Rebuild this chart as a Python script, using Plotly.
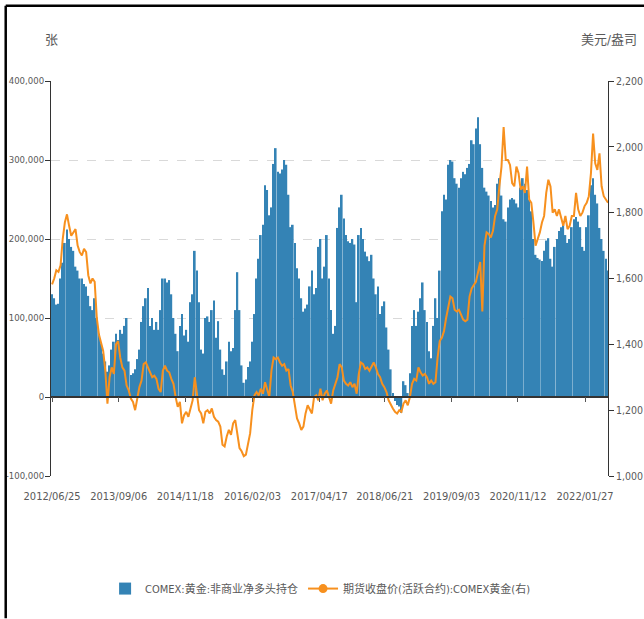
import pandas as pd
import plotly.graph_objects as go

# biweekly observation dates (x categories)
dates = pd.date_range("2012-06-25", periods=262, freq="14D")

# COMEX gold non-commercial net long, thousand contracts
net_long_k = [
    130, 125, 117, 118, 150, 170, 195, 212, 200, 190,
    185, 165, 160, 150, 150, 143, 140, 128, 115, 110,
    125, 100, 80, 68, 55, 45, 32, 40, 60, 70,
    80, 72, 85, 80, 90, 100, 45, 28, 30, 35,
    48, 60, 95, 115, 125, 138, 90, 100, 85, 95,
    85, 110, 150, 150, 145, 148, 130, 100, 80, 58,
    90, 105, 78, 85, 70, 120, 130, 185, 160, 120,
    60, 55, 100, 102, 95, 110, 122, 75, 96, 60,
    35, 28, 45, 70, 58, 62, 110, 158, 110, 40,
    18, 22, 38, 45, 70, 105, 150, 175, 205, 218,
    268, 262, 230, 240, 295, 315, 285, 283, 288, 300,
    294, 256, 215, 218, 195, 163, 150, 125, 108, 112,
    117, 140, 160, 130, 138, 190, 200, 150, 165, 205,
    150, 110, 80, 90, 214, 240, 256, 226, 205, 197,
    195, 200, 193, 120, 205, 214, 200, 184, 178, 172,
    180, 150, 130, 140, 105, 115, 121, 88, 60, 35,
    5, -5, -10, -12, -20, 20, 15, 5, 30, 90,
    110, 90, 108, 125, 145, 110, 95, 58, 49, 90,
    125, 100, 160, 235, 256, 250, 294, 300, 298, 277,
    270, 265, 277, 285, 282, 290, 295, 325, 320, 340,
    354, 320, 290, 265, 260, 255, 248, 240, 243, 270,
    277, 255, 225, 222, 240, 250, 252, 250, 245, 240,
    265, 277, 270, 262, 250, 235, 200, 180, 176, 174,
    172, 185, 198, 201, 175, 165, 190, 200, 210, 215,
    218, 205, 195, 200, 215, 225, 228, 222, 215, 190,
    185, 215, 230, 268, 277, 256, 245, 214, 200, 185,
    175, 160,
]

# COMEX gold futures close (active contract), USD/oz
price = [
    1582, 1600, 1625, 1620, 1640, 1720, 1770, 1795, 1760, 1730,
    1740, 1750, 1700, 1680, 1670, 1690, 1680, 1610, 1585, 1600,
    1590, 1480, 1430, 1400, 1380, 1320, 1220, 1300, 1330, 1310,
    1400, 1410, 1360, 1330, 1320, 1275, 1260, 1235, 1225, 1200,
    1240, 1270, 1290, 1340, 1345, 1330, 1310, 1300, 1305, 1295,
    1265, 1255, 1320, 1335, 1320, 1315, 1295, 1280, 1240, 1210,
    1225, 1160, 1185, 1195, 1180, 1210, 1230, 1300, 1240, 1200,
    1190, 1160, 1195, 1200, 1190, 1205, 1180, 1170, 1165, 1150,
    1095, 1090, 1120, 1140, 1125, 1160, 1170, 1120, 1085, 1075,
    1060, 1065, 1100, 1130, 1200, 1245, 1255, 1245, 1265, 1250,
    1285, 1260, 1240, 1320, 1360, 1355, 1360, 1345, 1335, 1340,
    1320, 1325, 1275, 1255, 1220, 1175, 1160, 1140, 1150, 1190,
    1215, 1200, 1190, 1240, 1245, 1230, 1265, 1230, 1250, 1260,
    1240, 1220, 1260, 1280, 1300, 1340, 1330, 1290, 1280, 1275,
    1285, 1270, 1280, 1250, 1310, 1345, 1340, 1325, 1330, 1320,
    1335, 1345, 1330, 1310, 1300, 1280, 1270, 1255, 1230, 1215,
    1205, 1195, 1190, 1200, 1195, 1220, 1230, 1215, 1240, 1280,
    1295, 1290, 1330, 1315, 1305, 1310, 1300, 1280, 1290, 1280,
    1285, 1360, 1410, 1420, 1440, 1480, 1510, 1545, 1540, 1505,
    1500, 1505, 1490, 1475, 1470, 1475, 1545, 1570, 1580, 1590,
    1620, 1650, 1500, 1700, 1740, 1735, 1725, 1745, 1790, 1810,
    1880, 1940, 2060, 1960, 1960, 1945, 1890, 1880, 1940, 1920,
    1870, 1880, 1860, 1940, 1840, 1830, 1770, 1700, 1720, 1740,
    1770, 1790, 1860, 1900, 1880, 1800, 1810, 1790, 1810, 1780,
    1760, 1790, 1750, 1760, 1790, 1790, 1860, 1810, 1790, 1800,
    1820, 1830, 1850, 1920, 2040, 1950, 1930, 1980, 1880, 1850,
    1840, 1830,
]

tick_dates = ["2012-06-25", "2013-09-06", "2014-11-18", "2016-02-03", "2017-04-17",
              "2018-06-21", "2019-09-03", "2020-11-12", "2022-01-27"]
tick_labels = [d.replace("-", "/") for d in tick_dates]

left_ticks = [-100000, 0, 100000, 200000, 300000, 400000]
left_labels = ["-100,000", "0", "100,000", "200,000", "300,000", "400,000"]
right_ticks = [1000, 1200, 1400, 1600, 1800, 2000, 2200]
right_labels = ["1,000", "1,200", "1,400", "1,600", "1,800", "2,000", "2,200"]

FONT = "DejaVu Sans Condensed, Noto Sans CJK SC, sans-serif"
GREY = "#595959"
BLUE = "#3483b5"
ORANGE = "#f7901e"
xrange = ["2012-06-18", "2022-06-27"]

fig = go.Figure()
fig.add_trace(go.Bar(
    x=dates, y=[v * 1000 for v in net_long_k],
    name="COMEX:黄金:非商业净多头持仓",
    marker=dict(color=BLUE, line=dict(width=0)),
))
fig.add_trace(go.Scatter(
    x=dates, y=price, yaxis="y2", mode="lines", showlegend=False,
    name="期货收盘价(活跃合约):COMEX黄金(右)",
    line=dict(color=ORANGE, width=2),
))
# legend entry for the price line (line with a dot)
fig.add_trace(go.Scatter(
    x=[dates[0]], y=[None], yaxis="y2", mode="lines+markers",
    name="期货收盘价(活跃合约):COMEX黄金(右)",
    line=dict(color=ORANGE, width=2), marker=dict(size=9, color=ORANGE),
))
# dummy axis to draw the category line along zero with its ticks
fig.add_trace(go.Scatter(x=[dates[0]], y=[None], xaxis="x2", showlegend=False, hoverinfo="skip"))

fig.update_layout(
    width=644, height=619,
    margin=dict(l=51, r=36, t=81, b=143, autoexpand=False),
    paper_bgcolor="white", plot_bgcolor="white",
    font=dict(family=FONT, size=11, color=GREY),
    bargap=0.2,
    showlegend=True,
    legend=dict(orientation="h", x=0.484, xanchor="center", y=-0.285, yanchor="middle",
                font=dict(size=11, color=GREY), itemwidth=30),
    xaxis=dict(
        type="date", range=xrange, tickvals=tick_dates, ticktext=tick_labels,
        showgrid=False, showline=False, ticks="", zeroline=False, tickangle=0,
        tickfont=dict(size=11, color=GREY), automargin=False, ticklabelstandoff=12,
    ),
    xaxis2=dict(
        type="date", range=xrange, tickvals=tick_dates, showticklabels=False,
        overlaying="x", anchor="free", position=(476.3 - 397) / 395,
        showline=True, linecolor="#333333", linewidth=1.5,
        ticks="outside", ticklen=5, tickcolor="#555555", showgrid=False,
    ),
    yaxis=dict(
        range=[-100000, 400000], tickvals=left_ticks, ticktext=left_labels,
        showline=True, linecolor="#333333", linewidth=1,
        ticks="outside", ticklen=5, tickcolor="#333333",
        showgrid=True, gridcolor="#d9d9d9", griddash="dash", gridwidth=1,
        zeroline=False, automargin=False, ticklabelstandoff=-1,
        tickfont=dict(size=9.5, color=GREY),
    ),
    yaxis2=dict(
        range=[1000, 2200], tickvals=right_ticks, ticktext=right_labels,
        overlaying="y", side="right", anchor="x",
        showline=True, linecolor="#333333", linewidth=1,
        ticks="outside", ticklen=5, tickcolor="#333333",
        showgrid=False, zeroline=False, automargin=False,
        tickfont=dict(size=10.5, color=GREY),
    ),
    annotations=[
        dict(text="张", xref="paper", yref="paper", x=0.0, y=1.1046,
             xanchor="center", yanchor="middle",
             showarrow=False, font=dict(size=13, color=GREY)),
        dict(text="美元/盎司", xref="paper", yref="paper", x=1.002, y=1.1046,
             xanchor="center", yanchor="middle",
             showarrow=False, font=dict(size=13, color=GREY)),
    ],
    shapes=[
        # outer frame (top and left edges visible)
        dict(type="line", xref="paper", yref="paper", x0=-0.0813, x1=1.07, y0=1.1906, y1=1.1906,
             line=dict(color="black", width=2.5)),
        dict(type="line", xref="paper", yref="paper", x0=-0.0813, x1=-0.0813, y0=-0.36, y1=1.1906,
             line=dict(color="black", width=2.5)),
    ],
)

# drop the default 8px page margin so the figure sits at the window's corner
fig.write_html("out.html", config={"displayModeBar": False},
               post_script="document.body.style.margin='0px';")
